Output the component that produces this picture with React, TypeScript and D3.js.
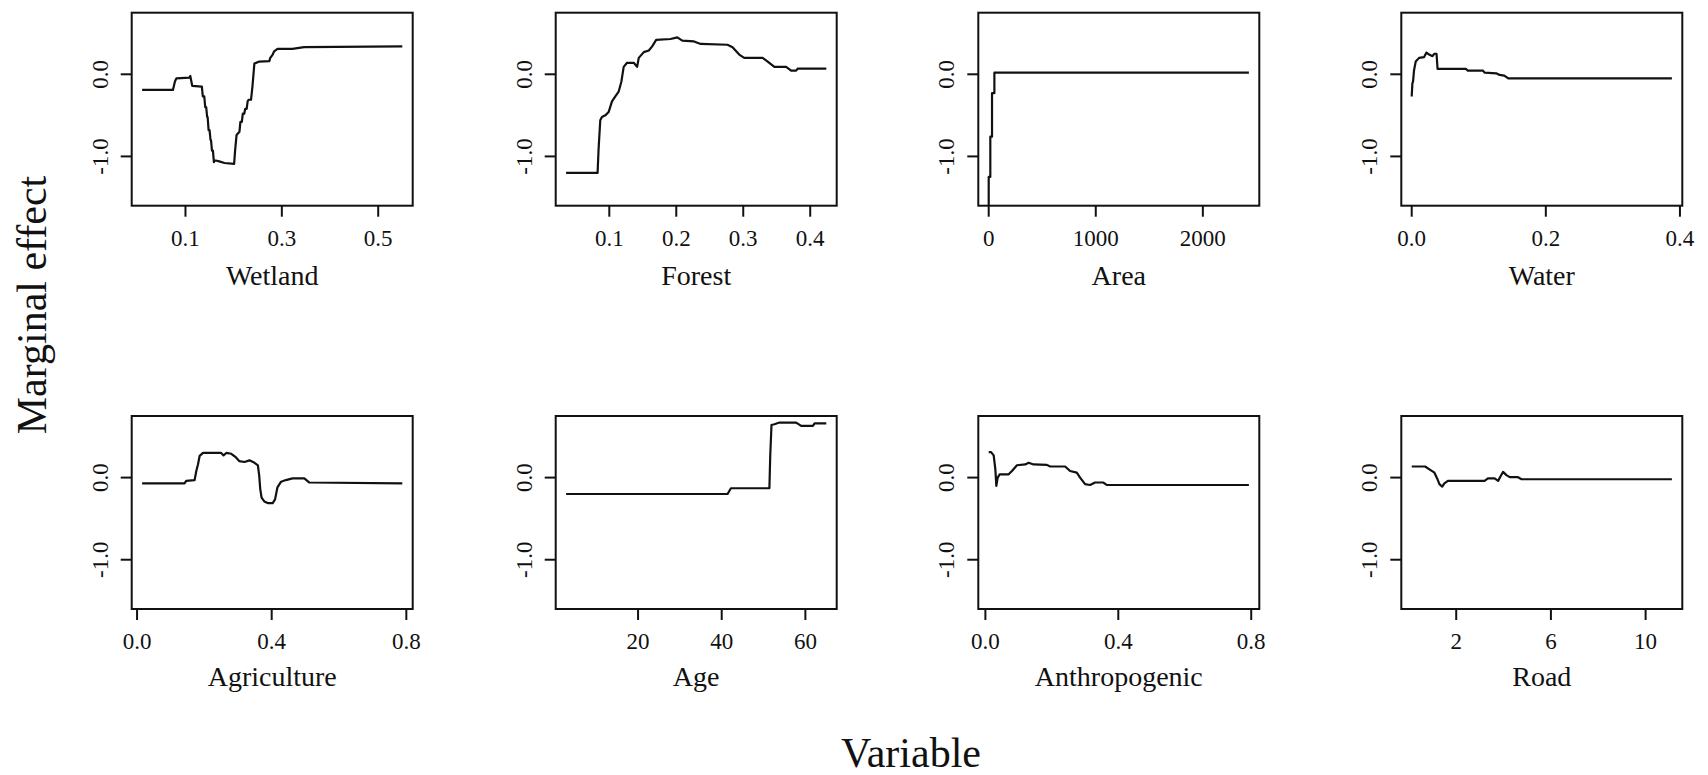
import React from "react";
import * as d3 from "d3";

// ---------- data ----------
const variables = ["Wetland", "Forest", "Area", "Water", "Agriculture", "Age", "Anthropogenic", "Road"];

const wetlandX = [0.01, 0.074, 0.078, 0.081, 0.108, 0.11, 0.114, 0.134, 0.136, 0.139, 0.141, 0.143, 0.145, 0.146, 0.148, 0.15, 0.152, 0.153, 0.155, 0.157, 0.159, 0.16, 0.163, 0.17, 0.181, 0.201, 0.203, 0.206, 0.212, 0.214, 0.217, 0.219, 0.222, 0.224, 0.227, 0.229, 0.231, 0.236, 0.239, 0.243, 0.253, 0.274, 0.276, 0.281, 0.284, 0.291, 0.322, 0.346, 0.55];
const wetlandY = [-0.19, -0.19, -0.09, -0.05, -0.04, -0.02, -0.14, -0.15, -0.27, -0.27, -0.4, -0.4, -0.52, -0.52, -0.68, -0.68, -0.8, -0.8, -0.93, -0.93, -1.07, -1.05, -1.05, -1.06, -1.08, -1.09, -0.93, -0.74, -0.7, -0.58, -0.58, -0.48, -0.48, -0.42, -0.42, -0.33, -0.31, -0.31, -0.15, 0.13, 0.155, 0.16, 0.2, 0.24, 0.28, 0.31, 0.31, 0.33, 0.34];

const forestX = [0.0355, 0.0825, 0.084, 0.0865, 0.089, 0.094, 0.099, 0.104, 0.109, 0.114, 0.118, 0.1215, 0.1265, 0.1365, 0.1415, 0.144, 0.1515, 0.159, 0.164, 0.17, 0.1915, 0.2015, 0.209, 0.2265, 0.2365, 0.2765, 0.284, 0.294, 0.3015, 0.329, 0.3365, 0.3465, 0.364, 0.3715, 0.379, 0.3815, 0.424];
const forestY = [-1.2, -1.2, -0.91, -0.56, -0.52, -0.5, -0.46, -0.33, -0.27, -0.21, -0.09, 0.09, 0.14, 0.14, 0.09, 0.2, 0.27, 0.29, 0.34, 0.42, 0.43, 0.45, 0.41, 0.4, 0.37, 0.36, 0.33, 0.24, 0.2, 0.2, 0.155, 0.09, 0.09, 0.045, 0.045, 0.07, 0.07];

const areaX = [0, 0, 15, 15, 31, 31, 53, 53, 2430];
const areaY = [-1.7, -1.25, -1.25, -0.76, -0.76, -0.23, -0.23, 0.02, 0.02];

const waterX = [0, 0.001, 0.002, 0.0035, 0.006, 0.011, 0.0185, 0.022, 0.026, 0.031, 0.0336, 0.037, 0.0386, 0.081, 0.0837, 0.106, 0.109, 0.126, 0.131, 0.138, 0.144, 0.388];
const waterY = [-0.27, -0.11, -0.09, 0.05, 0.155, 0.2, 0.21, 0.265, 0.24, 0.22, 0.25, 0.25, 0.065, 0.065, 0.045, 0.045, 0.02, 0.012, -0.008, -0.016, -0.05, -0.05];

const agricultureX = [0.015, 0.141, 0.146, 0.171, 0.176, 0.181, 0.186, 0.196, 0.25, 0.257, 0.265, 0.28, 0.294, 0.304, 0.319, 0.334, 0.349, 0.359, 0.363, 0.366, 0.37, 0.378, 0.388, 0.403, 0.41, 0.417, 0.428, 0.442, 0.462, 0.497, 0.512, 0.788];
const agricultureY = [-0.07, -0.07, -0.04, -0.03, 0.08, 0.16, 0.265, 0.3, 0.3, 0.27, 0.3, 0.29, 0.245, 0.2, 0.19, 0.21, 0.18, 0.15, 0.02, -0.14, -0.245, -0.29, -0.31, -0.31, -0.265, -0.12, -0.05, -0.03, -0.01, -0.01, -0.06, -0.07];

const ageX = [2.8, 41.4, 42.2, 51.4, 51.6, 51.9, 52.6, 53.8, 57.8, 59, 61.8, 62.2, 65];
const ageY = [-0.2, -0.2, -0.13, -0.13, 0.265, 0.64, 0.65, 0.67, 0.67, 0.63, 0.63, 0.66, 0.66];

const anthropogenicX = [0.01, 0.017, 0.025, 0.03, 0.033, 0.037, 0.043, 0.07, 0.08, 0.095, 0.12, 0.13, 0.145, 0.185, 0.195, 0.24, 0.255, 0.275, 0.285, 0.3, 0.315, 0.33, 0.355, 0.365, 0.793];
const anthropogenicY = [0.31, 0.31, 0.27, 0.1, -0.1, 0.0, 0.04, 0.04, 0.08, 0.15, 0.16, 0.18, 0.16, 0.155, 0.135, 0.135, 0.08, 0.06, 0.0, -0.08, -0.09, -0.06, -0.06, -0.09, -0.09];

const roadX = [0.12, 0.686, 0.87, 1.08, 1.195, 1.29, 1.41, 1.5, 1.65, 3.2, 3.34, 3.62, 3.77, 3.88, 3.98, 4.12, 4.26, 4.61, 4.76, 11.11];
const roadY = [0.135, 0.135, 0.1, 0.06, -0.01, -0.08, -0.11, -0.07, -0.04, -0.04, -0.01, -0.01, -0.04, 0.02, 0.07, 0.03, 0.005, 0.005, -0.02, -0.02];

const seriesX = [wetlandX, forestX, areaX, waterX, agricultureX, ageX, anthropogenicX, roadX];
const seriesY = [wetlandY, forestY, areaY, waterY, agricultureY, ageY, anthropogenicY, roadY];

const xTicks = [
  [0.1, 0.3, 0.5],
  [0.1, 0.2, 0.3, 0.4],
  [0, 1000, 2000],
  [0.0, 0.2, 0.4],
  [0.0, 0.4, 0.8],
  [20, 40, 60],
  [0.0, 0.4, 0.8],
  [2, 6, 10],
];
const xTickLabels = [
  ["0.1", "0.3", "0.5"],
  ["0.1", "0.2", "0.3", "0.4"],
  ["0", "1000", "2000"],
  ["0.0", "0.2", "0.4"],
  ["0.0", "0.4", "0.8"],
  ["20", "40", "60"],
  ["0.0", "0.4", "0.8"],
  ["2", "6", "10"],
];
const yTicks = [0, -1];
const yTickLabels = ["0.0", "-1.0"];
const yDomain = [-1.6, 0.75];
const yTitle = "Marginal effect";
const xTitle = "Variable";

// ---------- layout ----------
const W = 1708;
const H = 775;
const panelW = 281;
const panelH = 193;
const colLeft = [131.7, 555.7, 978.3, 1401.3];
const rowTop = [12.7, 416];
const tickLabelOffset = 40;
const titleOffset = [79, 77];
const FONT = "'Liberation Serif', 'Times New Roman', Times, serif";
const INK = "#111";

function Panel({ idx }: { idx: number }) {
  const col = idx % 4;
  const row = Math.floor(idx / 4);
  const left = colLeft[col];
  const top = rowTop[row];
  const xs = seriesX[idx];
  const ys = seriesY[idx];
  const [lo, hi] = d3.extent(xs) as [number, number];
  const pad = (hi - lo) * 0.04;
  const x = d3.scaleLinear().domain([lo - pad, hi + pad]).range([left, left + panelW]);
  const y = d3.scaleLinear().domain(yDomain).range([top + panelH, top]);
  const pts: [number, number][] = xs.map((v, i) => [v, ys[i]]);
  const line = d3
    .line<[number, number]>()
    .x((d) => x(d[0]))
    .y((d) => y(d[1]))
    .curve(d3.curveLinear);
  const clipId = `clip-${idx}`;
  const bottom = top + panelH;
  return (
    <g>
      <defs>
        <clipPath id={clipId}>
          <rect x={left} y={top} width={panelW} height={panelH} />
        </clipPath>
      </defs>
      <path d={line(pts) || ""} fill="none" stroke={INK} strokeWidth={2.2} strokeLinejoin="round" clipPath={`url(#${clipId})`} />
      <rect x={left} y={top} width={panelW} height={panelH} fill="none" stroke={INK} strokeWidth={2} />
      {xTicks[idx].map((t, i) => (
        <g key={"x" + i}>
          <line x1={x(t)} x2={x(t)} y1={bottom} y2={bottom + 11} stroke={INK} strokeWidth={2} />
          <text x={x(t)} y={bottom + tickLabelOffset} textAnchor="middle" fontFamily={FONT} fontSize={23} fill={INK}>
            {xTickLabels[idx][i]}
          </text>
        </g>
      ))}
      {yTicks.map((t, i) => (
        <g key={"y" + i}>
          <line x1={left - 11} x2={left} y1={y(t)} y2={y(t)} stroke={INK} strokeWidth={2} />
          <text
            transform={`translate(${left - 24},${y(t)}) rotate(-90)`}
            textAnchor="middle"
            fontFamily={FONT}
            fontSize={23}
            fill={INK}
          >
            {yTickLabels[i]}
          </text>
        </g>
      ))}
      <text x={left + panelW / 2} y={bottom + titleOffset[row]} textAnchor="middle" fontFamily={FONT} fontSize={28} fill={INK}>
        {variables[idx]}
      </text>
    </g>
  );
}

export default function App() {
  return (
    <svg
      width={W}
      height={H}
      viewBox={`0 0 ${W} ${H}`}
      style={{ position: "absolute", left: 0, top: 0, background: "#fff" }}
    >
      <rect x={0} y={0} width={W} height={H} fill="#fff" />
      {variables.map((_, i) => (
        <Panel key={i} idx={i} />
      ))}
      <text
        transform={`translate(46,305) rotate(-90)`}
        textAnchor="middle"
        fontFamily={FONT}
        fontSize={42}
        fill={INK}
      >
        {yTitle}
      </text>
      <text x={911} y={767} textAnchor="middle" fontFamily={FONT} fontSize={42} fill={INK}>
        {xTitle}
      </text>
    </svg>
  );
}
